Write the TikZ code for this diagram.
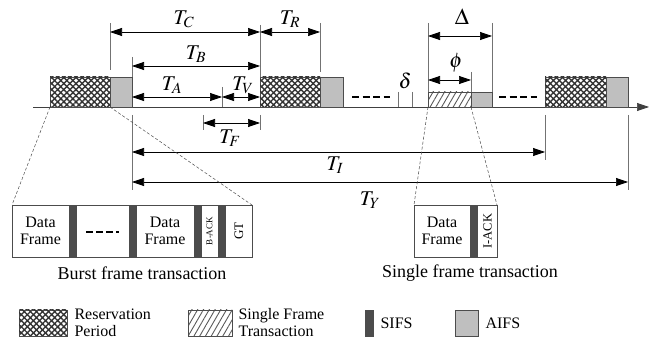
\documentclass[tikz,border=0pt]{standalone}
\usepackage{mathptmx}
\usepackage{fontspec}
\setmainfont{Liberation Serif}
\usetikzlibrary{arrows.meta}
\usetikzlibrary{patterns.meta}
\usetikzlibrary{positioning}

\tikzset{
  dimarrow/.style={{Triangle[length=12pt,width=8pt]}-{Triangle[length=12pt,width=8pt]}, line width=0.7pt},
  extline/.style={line width=0.6pt, black!55},
  resvbox/.style={draw=black!70, pattern={Lines[angle=45,distance=4.3pt,line width=1.4pt]}, pattern color=black!80,
    postaction={pattern={Lines[angle=-45,distance=4.3pt,line width=1.4pt]}, pattern color=black!80}},
  sglbox/.style={draw=black!70, pattern={Lines[angle=60,distance=5pt,line width=0.9pt]}, pattern color=black!65},
  aifsbox/.style={draw=black!70, fill=black!25},
  sifsbox/.style={draw=black!70, fill=black!70},
  cellbox/.style={draw=black!70, fill=white},
  zoomln/.style={black!70, line width=0.5pt, dash pattern=on 3pt off 2pt},
  idle/.style={line width=1.8pt, dash pattern=on 7pt off 3.5pt},
  lbltext/.style={font=\fontsize{21}{21}\selectfont},
  boxtext/.style={font=\fontsize{16}{17}\selectfont, align=center},
  captext/.style={font=\fontsize{18}{18}\selectfont},
  legtext/.style={font=\fontsize{16}{17}\selectfont, align=left, anchor=west},
}

\begin{document}
\begin{tikzpicture}[x=1pt,y=-1pt]
  \useasboundingbox (0,0) rectangle (649,342);

  % time axis
  \coordinate (ax0) at (33,107);
  \coordinate (ax1) at (649,107);
  \draw[line width=0.7pt, black!75, -{Triangle[length=12pt,width=8pt]}] (ax0) -- (ax1);

  % reservation periods followed by AIFS
  \foreach \a/\b/\c in {50/110/132, 260/320/343, 545/606/628} {
    \draw[resvbox] (\a,77) rectangle (\b,107);
    \draw[aifsbox] (\b,77) rectangle (\c,107);
  }

  % single frame transaction
  \draw[sglbox] (428,92) rectangle (471,107);
  \draw[aifsbox] (471,92) rectangle (492,107);

  % idle parts and slot
  \draw[idle] (352,97) -- (390,97);
  \draw[idle] (499,97) -- (537,97);
  \draw[extline] (398,92) -- (398,107) (412,92) -- (412,107);
  \node[lbltext] (delta) at (405,81) {$\delta$};

  % extension lines
  \draw[extline] (110,23) -- (110,70);
  \draw[extline] (260,25) -- (260,77);
  \draw[extline] (320,23) -- (320,72);
  \draw[extline] (132,57) -- (132,77);
  \draw[extline] (222,87) -- (222,107);
  \draw[extline] (203,115) -- (203,130) (260,115) -- (260,130);
  \draw[extline] (132,115) -- (132,190);
  \draw[extline] (545,115) -- (545,160);
  \draw[extline] (628,115) -- (628,190);
  \draw[extline] (428,23) -- (428,92) (492,23) -- (492,92);
  \draw[extline] (471,72) -- (471,92);

  % dimensions
  \coordinate (tc0) at (110,32);
  \coordinate (tc1) at (260,32);
  \coordinate (tr1) at (320,32);
  \coordinate (tb0) at (132,66);
  \coordinate (tb1) at (260,66);
  \coordinate (ta0) at (132,97);
  \coordinate (ta1) at (222,97);
  \coordinate (tv1) at (260,97);
  \coordinate (tf0) at (203,123);
  \coordinate (tf1) at (260,123);
  \coordinate (ti0) at (132,152);
  \coordinate (ti1) at (545,152);
  \coordinate (ty0) at (132,182);
  \coordinate (ty1) at (628,182);
  \coordinate (dl0) at (428,36);
  \coordinate (dl1) at (492,36);
  \coordinate (ph0) at (428,80);
  \coordinate (ph1) at (471,80);
  \draw[dimarrow] (tc0) -- (tc1);
  \draw[dimarrow] (tc1) -- (tr1);
  \draw[dimarrow] (tb0) -- (tb1);
  \draw[dimarrow] (ta0) -- (ta1);
  \draw[dimarrow] (ta1) -- (tv1);
  \draw[dimarrow] (tf0) -- (tf1);
  \draw[dimarrow] (ti0) -- (ti1);
  \draw[dimarrow] (ty0) -- (ty1);
  \draw[dimarrow] (dl0) -- (dl1);
  \draw[dimarrow] (ph0) -- (ph1);
  \node[lbltext] (tc) at (184,19) {$T_C$};
  \node[lbltext] (tr) at (290,19) {$T_R$};
  \node[lbltext] (tb) at (196,54) {$T_B$};
  \node[lbltext] (ta) at (172,85) {$T_A$};
  \node[lbltext] (tv) at (243,85) {$T_V$};
  \node[lbltext] (tf) at (230,138) {$T_F$};
  \node[lbltext] (ti) at (335,165) {$T_I$};
  \node[lbltext] (ty) at (370,200) {$T_Y$};
  \node[lbltext, font=\fontsize{23}{23}\selectfont] (dl) at (462,17) {$\Delta$};
  \node[lbltext] (ph) at (456,63) {$\phi$};

  % zoom lines
  \draw[zoomln] (50,107) -- (12,205);
  \draw[zoomln] (110,107) -- (252,205);
  \draw[zoomln] (428,107) -- (414,205);
  \draw[zoomln] (471,107) -- (497,205);

  % burst frame transaction
  \draw[cellbox] (12,205) rectangle (252,257);
  \foreach \s in {69,129,194,218}
    \draw[sifsbox] (\s,205) rectangle ++(7.5,52);
  \node[boxtext] (df1) at (40.5,231) {Data\\Frame};
  \draw[idle, line width=2pt, dash pattern=on 6.5pt off 3.5pt] (86,232) -- (119,232);
  \node[boxtext] (df2) at (165,231) {Data\\Frame};
  \node[rotate=90, font=\fontsize{9}{9}\selectfont] (back) at (209.5,231) {B-ACK};
  \node[rotate=90, font=\fontsize{13}{13}\selectfont] (gt) at (239,231) {GT};
  \node[captext] (burst) at (142,273) {Burst frame transaction};

  % single frame transaction
  \draw[cellbox] (414,205) rectangle (497,257);
  \draw[sifsbox] (470,205) rectangle ++(7.5,52);
  \node[boxtext] (df3) at (442,231) {Data\\Frame};
  \node[rotate=90, font=\fontsize{12.5}{12.5}\selectfont] (iack) at (487.5,231) {I-ACK};
  \node[captext] (single) at (470,273) {Single frame transaction};

  % legend
  \draw[resvbox] (19,310) rectangle (67,336);
  \node[legtext] (lgresv) at (71,323) {Reservation\\Period};
  \draw[sglbox] (188,310) rectangle (232,336);
  \node[legtext] (lgsgl) at (235,323) {Single Frame\\Transaction};
  \draw[sifsbox] (365,310) rectangle (373,336);
  \node[legtext] (lgsifs) at (377,323) {SIFS};
  \draw[aifsbox] (455,310) rectangle (478,336);
  \node[legtext] (lgaifs) at (482,323) {AIFS};
\end{tikzpicture}
\end{document}
